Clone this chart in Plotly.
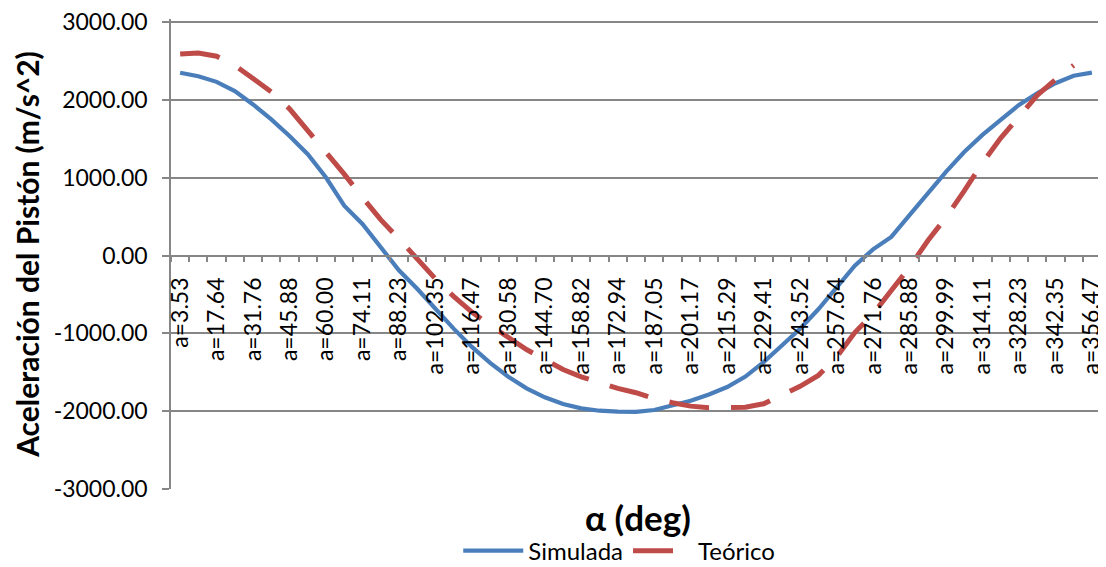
import plotly.graph_objects as go

# angulo de manivela (deg), una categoria cada 360/51
angulos = [3.53, 10.59, 17.64, 24.70, 31.76, 38.82, 45.88, 52.94, 60.00, 67.06,
           74.11, 81.17, 88.23, 95.29, 102.35, 109.41, 116.47, 123.53, 130.58, 137.64,
           144.70, 151.76, 158.82, 165.88, 172.94, 180.00, 187.05, 194.11, 201.17, 208.23,
           215.29, 222.35, 229.41, 236.47, 243.52, 250.58, 257.64, 264.70, 271.76, 278.82,
           285.88, 292.94, 299.99, 307.05, 314.11, 321.17, 328.23, 335.29, 342.35, 349.41,
           356.47]

simulada = [2350, 2305, 2232, 2113, 1942, 1750, 1536, 1302, 1003, 640,
            406, 115, -190, -427, -683, -939, -1174, -1379, -1558, -1707,
            -1822, -1908, -1963, -1994, -2006, -2008, -1985, -1930, -1865, -1785,
            -1690, -1555, -1370, -1155, -940, -690, -410, -130, 80, 240,
            520, 800, 1075, 1330, 1550, 1745, 1935, 2085, 2215, 2310,
            2350]

teorico = [2590, 2603, 2561, 2445, 2275, 2104, 1886, 1609, 1332, 1046,
           747, 461, 215, -42, -298, -525, -726, -896, -1046, -1208,
           -1336, -1464, -1558, -1635, -1707, -1763, -1840, -1891, -1935, -1955,
           -1960, -1950, -1905, -1795, -1680, -1540, -1305, -990, -750, -450,
           -150, 190, 490, 830, 1190, 1510, 1790, 2060, 2260, 2446,
           None]

etiquetas_x = angulos[::2]
yticks = [3000, 2000, 1000, 0, -1000, -2000, -3000]
y_rango = [-3000, 3040]  # un poco de aire arriba para que se dibuje la linea de 3000

fuente = "Lato"
gris = "#868686"

fig = go.Figure()
fig.add_trace(go.Scatter(x=angulos, y=simulada, name="Simulada", mode="lines",
                         line=dict(color="#4A7EBB", width=4.2)))
fig.add_trace(go.Scatter(x=angulos, y=teorico, name="Teórico", mode="lines",
                         line=dict(color="#BE4B48", width=5, dash="40px,22px")))

# la pagina tiene 8px de margen en body, por eso 1098x559
fig.update_layout(
    width=1098, height=559,
    margin=dict(l=163, r=5, t=11, b=78, autoexpand=False),
    plot_bgcolor="white", paper_bgcolor="white",
    font=dict(family=fuente, color="black", size=23),
    showlegend=True,
    legend=dict(orientation="h", x=0.482, xanchor="center", y=-0.132, yanchor="middle",
                font=dict(size=24), bgcolor="rgba(0,0,0,0)", itemwidth=60),
    xaxis=dict(
        range=[0, 360], anchor="free",
        position=(0 - y_rango[0]) / (y_rango[1] - y_rango[0]), automargin=False,
        tickvals=etiquetas_x, ticktext=["a=%.2f" % a for a in etiquetas_x],
        tickangle=-90, ticks="", tickfont=dict(size=23), ticklabelstandoff=12,
        ticklabeloverflow="allow",
        showgrid=False, zeroline=False,
        showline=True, linecolor=gris, linewidth=1.5,
        minor=dict(tick0=0, dtick=360 / 51, ticks="outside", ticklen=6,
                   tickcolor=gris, tickwidth=1.5, showgrid=False),
    ),
    yaxis=dict(
        range=y_rango, tickvals=yticks, automargin=False,
        ticktext=["%.2f" % v for v in yticks], ticklabeloverflow="allow",
        ticks="outside", ticklen=7, tickcolor=gris, tickwidth=1.5,
        ticklabelstandoff=10, tickfont=dict(size=23),
        showgrid=True, gridcolor=gris, gridwidth=1.5,
        zeroline=False, showline=True, linecolor=gris, linewidth=1.5,
    ),
    annotations=[
        dict(text="<b>α (deg)</b>", xref="paper", yref="paper", x=0.502, y=-0.06,
             xanchor="center", yanchor="middle", showarrow=False,
             font=dict(size=35, family=fuente)),
        dict(text="<b>Aceleración del Pistón (m/s^2)</b>", xref="paper", yref="paper",
             x=-0.155, y=0.5, textangle=-90, xanchor="center", yanchor="middle",
             showarrow=False, font=dict(size=30, family=fuente)),
    ],
)

fig.write_html("out.html")
